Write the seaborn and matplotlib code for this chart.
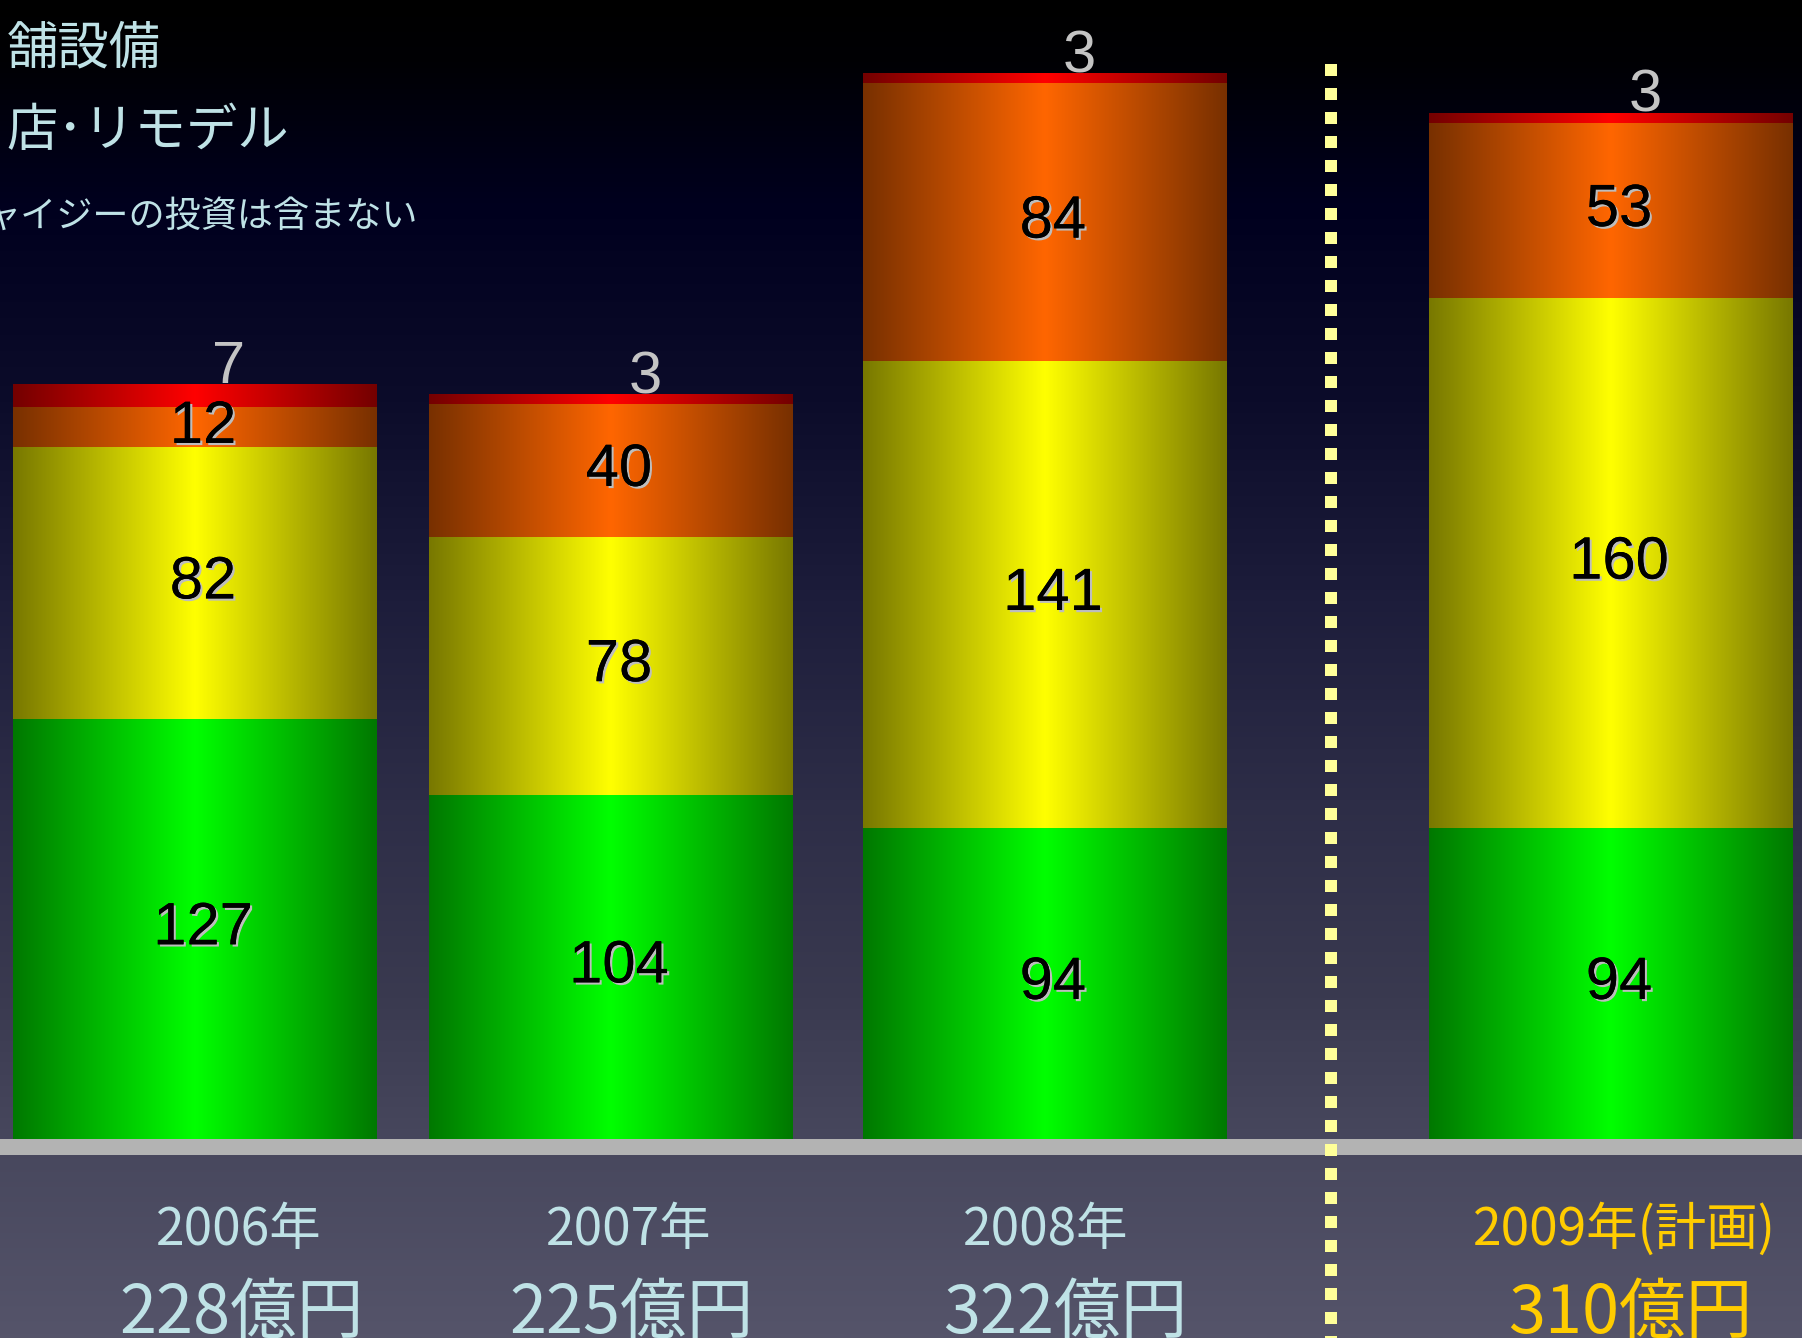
import numpy as np
import pandas as pd
import matplotlib
matplotlib.use("Agg")
import matplotlib.pyplot as plt
import seaborn as sns
from matplotlib import patheffects as pe
from matplotlib.colors import LinearSegmentedColormap, to_rgb

# ---- data -------------------------------------------------------------
years = ["2006年", "2007年", "2008年", "2009年(計画)"]
total_labels = ["228億円", "225億円", "322億円", "310億円"]
seg_green = [127, 104, 94, 94]
seg_yellow = [82, 78, 141, 160]
seg_orange = [12, 40, 84, 53]
seg_red = [7, 3, 3, 3]
legend_lines = ["舗設備", "店･リモデル", "ャイジーの投資は含まない"]

# ---- layout -----------------------------------------------------------
W_PX, H_PX = 1802, 1338
PX_X = 416.0          # pixels per x unit
PX_Y = 3.31           # pixels per value unit
BASE_PX = 1139        # baseline, pixels from top
FIRST_PX = 195        # centre of first bar, pixels from left
xpos = [0.0, 1.0, 2.043, 3.404]
bar_width = 0.873
year_shift_px = [44, 18, 1, 13]
total_shift_px = [47, 21, 20, 19]
text_colors = ["#bfe2e6", "#bfe2e6", "#bfe2e6", "#ffcc00"]

layers = ["green", "yellow", "orange", "red"]
layer_values = {"green": seg_green, "yellow": seg_yellow,
                "orange": seg_orange, "red": seg_red}
layer_colors = {  # (edge, centre) of the horizontal shading
    "green": ("#007800", "#00ff00"),
    "yellow": ("#787800", "#ffff00"),
    "orange": ("#783000", "#ff6600"),
    "red": ("#740000", "#ff0000"),
}

rows = []
for i, p in enumerate(xpos):
    bottom = 0
    for layer in layers:
        v = layer_values[layer][i]
        rows.append(dict(idx=i, pos=p, layer=layer, value=v,
                         bottom=bottom, top=bottom + v))
        bottom += v
df = pd.DataFrame(rows)

JP = ["Noto Sans CJK JP", "DejaVu Sans"]
NUM = ["Liberation Sans", "DejaVu Sans"]

fig = plt.figure(figsize=(W_PX / 100, H_PX / 100), dpi=100)

# background: black at the top fading to slate blue-grey
bg = fig.add_axes([0, 0, 1, 1])
bg.axis("off")
stops = [(0, "#000000"), (60, "#010104"), (200, "#00001e"), (400, "#0c0c2a"),
         (600, "#1d1d3b"), (800, "#2d2d47"), (1000, "#3a3a50"),
         (1130, "#46465c"), (1338, "#55546a")]
bg_cmap = LinearSegmentedColormap.from_list(
    "bg", [(y / H_PX, c) for y, c in stops])
bg.imshow(np.linspace(0, 1, 512)[:, None], aspect="auto", cmap=bg_cmap,
          extent=[0, 1, 0, 1], origin="upper", interpolation="bilinear")
bg.set_xlim(0, 1)
bg.set_ylim(0, 1)

ax = fig.add_axes([0, 0, 1, 1])
ax.patch.set_alpha(0)


def shading(edge, centre, n=256):
    t = np.linspace(0, 1, n)
    prof = 1 - np.abs(2 * t - 1)
    e = np.array(to_rgb(edge))
    c = np.array(to_rgb(centre))
    return (e[None, :] + (c - e)[None, :] * prof[:, None])[None, :, :]


# stacked bars: cumulative heights drawn from the top layer downwards
for z, layer in enumerate(reversed(layers)):
    d = df[df.layer == layer]
    n_before = len(ax.patches)
    sns.barplot(x=d["pos"], y=d["top"], native_scale=True, orient="x",
                width=bar_width, errorbar=None, color="white", ax=ax)
    img = shading(*layer_colors[layer])
    for patch in ax.patches[n_before:]:
        patch.set_facecolor("none")
        patch.set_edgecolor("none")
        x0, y0 = patch.get_x(), patch.get_y()
        w, h = patch.get_width(), patch.get_height()
        im = ax.imshow(img, extent=[x0, x0 + w, y0, y0 + h], aspect="auto",
                       interpolation="bilinear", zorder=2 + z)
        im.set_clip_path(patch)

shadow = [pe.withSimplePatchShadow(offset=(1.6, -1.6),
                                   shadow_rgbFace="#bdbdbd", alpha=1.0),
          pe.Normal()]

for _, r in df.iterrows():
    if r.layer == "red":
        ax.text(r.pos + 34 / PX_X, r.top + 1 / PX_Y, str(r.value),
                ha="center", va="baseline", fontsize=43, color="#c4c4c4",
                family=NUM, zorder=12)
    else:
        ax.text(r.pos + 8 / PX_X, r.bottom + r.value / 2, str(r.value),
                ha="center", va="center", fontsize=43, color="black",
                family=NUM, path_effects=shadow, zorder=12)

# baseline band
ax.axhspan(-16 / PX_Y, 0, color="#b3b3b3", zorder=8, lw=0)

# dotted divider between results and plan
x_div = (1331 - FIRST_PX) / PX_X
y_lo = -(H_PX - BASE_PX) / PX_Y
ax.plot([x_div, x_div], [(BASE_PX - 64) / PX_Y, y_lo], color="#ffff99",
        lw=12 * 0.72, dashes=(1, 1), solid_capstyle="butt", zorder=9)

# category and total labels
for i, p in enumerate(xpos):
    ax.text(p + year_shift_px[i] / PX_X, (BASE_PX - 1230) / PX_Y, years[i],
            ha="center", va="center", fontsize=37, color=text_colors[i],
            family=JP, zorder=12)
    ax.text(p + total_shift_px[i] / PX_X, (BASE_PX - 1333) / PX_Y,
            total_labels[i], ha="center", va="baseline", fontsize=48,
            color=text_colors[i], family=JP, zorder=12)

ax.set_xlim(-FIRST_PX / PX_X, (W_PX - FIRST_PX) / PX_X)
ax.set_ylim(y_lo, BASE_PX / PX_Y)
ax.axis("off")

# legend notes at the top left
fig.text(7 / W_PX, 1 - 49 / H_PX, legend_lines[0], ha="left", va="center",
         fontsize=37, color="#bfe2e6", family=JP)
fig.text(6 / W_PX, 1 - 131 / H_PX, legend_lines[1], ha="left", va="center",
         fontsize=37, color="#bfe2e6", family=JP)
fig.text(-15 / W_PX, 1 - 217 / H_PX, legend_lines[2], ha="left", va="center",
         fontsize=26, color="#bfe2e6", family=JP)

fig.savefig("out.png", dpi=100)
